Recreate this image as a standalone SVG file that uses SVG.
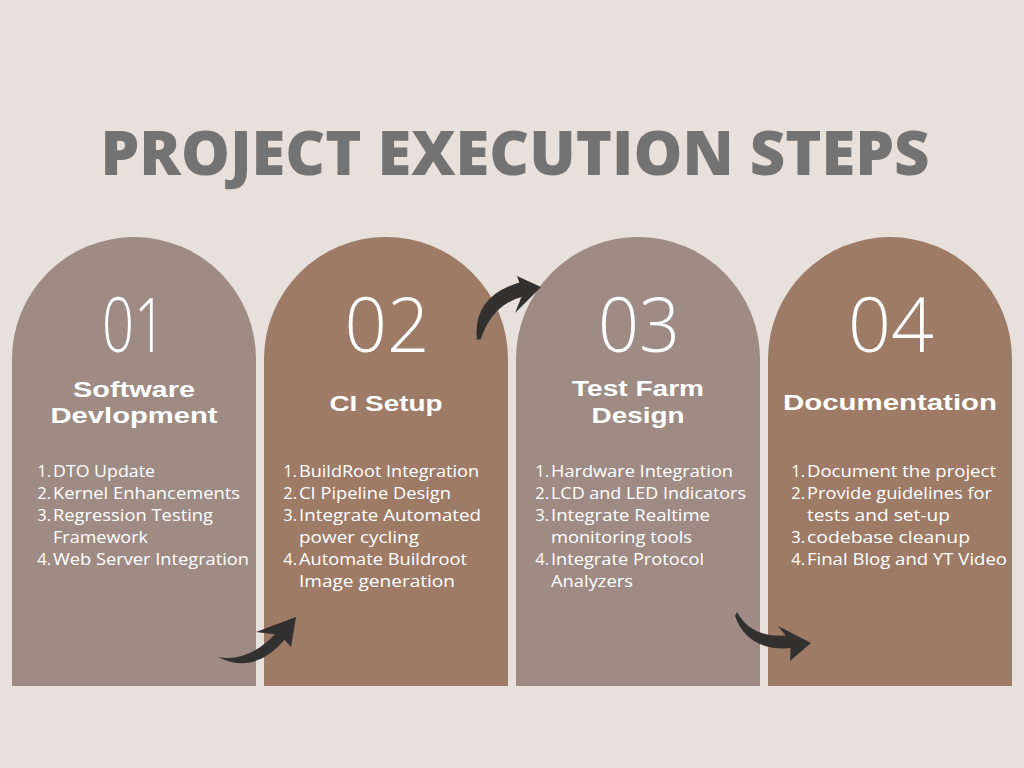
<svg xmlns="http://www.w3.org/2000/svg" width="1024" height="768" viewBox="0 0 1024 768">
<style>
.bg{fill:#E8E0DB}
.c1{fill:#9E8C84}
.c2{fill:#9D7B66}
.title{font-family:"Open Sans","Liberation Sans",sans-serif;font-weight:800;font-size:62px;fill:#737373}
.num{font-family:"Open Sans","Liberation Sans",sans-serif;font-weight:300;font-size:76px;fill:#ffffff;text-anchor:middle}
.head{font-family:"Liberation Sans","Open Sans",sans-serif;font-weight:700;font-size:22px;fill:#ffffff;text-anchor:middle}
.li{font-family:"Open Sans","Liberation Sans",sans-serif;font-weight:400;font-size:16.5px;fill:#ffffff}
.n{text-anchor:end}
.arrow{fill:#333130}
</style>
<rect class="bg" x="0" y="0" width="1024" height="768"/>
<text class="title" x="515" y="175" text-anchor="middle" textLength="829" lengthAdjust="spacingAndGlyphs">PROJECT EXECUTION STEPS</text>

<g id="step1">
<path class="c1" d="M12,686 L12,359 A122,122 0 0 1 256,359 L256,686 Z"/>
<text class="num" x="134" y="352" textLength="64" lengthAdjust="spacingAndGlyphs">01</text>
<text class="head" x="134" y="397" textLength="122" lengthAdjust="spacingAndGlyphs">Software</text>
<text class="head" x="134" y="423" textLength="167" lengthAdjust="spacingAndGlyphs">Devlopment</text>
<text class="li n" x="51" y="477">1.</text><text class="li" x="53" y="477" textLength="102" lengthAdjust="spacingAndGlyphs">DTO Update</text>
<text class="li n" x="51" y="499">2.</text><text class="li" x="53" y="499" textLength="187" lengthAdjust="spacingAndGlyphs">Kernel Enhancements</text>
<text class="li n" x="51" y="521">3.</text><text class="li" x="53" y="521" textLength="160" lengthAdjust="spacingAndGlyphs">Regression Testing</text>
<text class="li" x="53" y="543" textLength="95" lengthAdjust="spacingAndGlyphs">Framework</text>
<text class="li n" x="51" y="565">4.</text><text class="li" x="53" y="565" textLength="196" lengthAdjust="spacingAndGlyphs">Web Server Integration</text>
</g>

<g id="step2">
<path class="c2" d="M264,686 L264,359 A122,122 0 0 1 508,359 L508,686 Z"/>
<text class="num" x="387" y="352" textLength="85" lengthAdjust="spacingAndGlyphs">02</text>
<text class="head" x="386" y="411" textLength="113" lengthAdjust="spacingAndGlyphs">CI Setup</text>
<text class="li n" x="297" y="477">1.</text><text class="li" x="299" y="477" textLength="180" lengthAdjust="spacingAndGlyphs">BuildRoot Integration</text>
<text class="li n" x="297" y="499">2.</text><text class="li" x="299" y="499" textLength="152" lengthAdjust="spacingAndGlyphs">CI Pipeline Design</text>
<text class="li n" x="297" y="521">3.</text><text class="li" x="299" y="521" textLength="182" lengthAdjust="spacingAndGlyphs">Integrate Automated</text>
<text class="li" x="299" y="543" textLength="120" lengthAdjust="spacingAndGlyphs">power cycling</text>
<text class="li n" x="297" y="565">4.</text><text class="li" x="299" y="565" textLength="168" lengthAdjust="spacingAndGlyphs">Automate Buildroot</text>
<text class="li" x="299" y="587" textLength="156" lengthAdjust="spacingAndGlyphs">Image generation</text>
</g>

<g id="step3">
<path class="c1" d="M516,686 L516,359 A122,122 0 0 1 760,359 L760,686 Z"/>
<text class="num" x="639" y="352" textLength="82" lengthAdjust="spacingAndGlyphs">03</text>
<text class="head" x="638" y="396" textLength="132" lengthAdjust="spacingAndGlyphs">Test Farm</text>
<text class="head" x="638" y="423" textLength="93" lengthAdjust="spacingAndGlyphs">Design</text>
<text class="li n" x="549" y="477">1.</text><text class="li" x="551" y="477" textLength="182" lengthAdjust="spacingAndGlyphs">Hardware Integration</text>
<text class="li n" x="549" y="499">2.</text><text class="li" x="551" y="499" textLength="195" lengthAdjust="spacingAndGlyphs">LCD and LED Indicators</text>
<text class="li n" x="549" y="521">3.</text><text class="li" x="551" y="521" textLength="159" lengthAdjust="spacingAndGlyphs">Integrate Realtime</text>
<text class="li" x="551" y="543" textLength="141" lengthAdjust="spacingAndGlyphs">monitoring tools</text>
<text class="li n" x="549" y="565">4.</text><text class="li" x="551" y="565" textLength="153" lengthAdjust="spacingAndGlyphs">Integrate Protocol</text>
<text class="li" x="551" y="587" textLength="82" lengthAdjust="spacingAndGlyphs">Analyzers</text>
</g>

<g id="step4">
<path class="c2" d="M768,686 L768,359 A122,122 0 0 1 1012,359 L1012,686 Z"/>
<text class="num" x="891" y="352" textLength="86" lengthAdjust="spacingAndGlyphs">04</text>
<text class="head" x="890" y="410" textLength="214" lengthAdjust="spacingAndGlyphs">Documentation</text>
<text class="li n" x="805" y="477">1.</text><text class="li" x="807" y="477" textLength="189" lengthAdjust="spacingAndGlyphs">Document the project</text>
<text class="li n" x="805" y="499">2.</text><text class="li" x="807" y="499" textLength="185" lengthAdjust="spacingAndGlyphs">Provide guidelines for</text>
<text class="li" x="807" y="521" textLength="143" lengthAdjust="spacingAndGlyphs">tests and set-up</text>
<text class="li n" x="805" y="543">3.</text><text class="li" x="807" y="543" textLength="163" lengthAdjust="spacingAndGlyphs">codebase cleanup</text>
<text class="li n" x="805" y="565">4.</text><text class="li" x="807" y="565" textLength="200" lengthAdjust="spacingAndGlyphs">Final Blog and YT Video</text>
</g>

<g id="connectors">
<path class="arrow" d="M218,657 Q255,676 286,638 L279,630 Q250,663 218,657 Z"/>
<polygon class="arrow" points="296,617 256,632 280,635 291,647"/>
<path class="arrow" d="M477,340 Q472,296 521,282 L525,296 Q492,304 481,339 Z"/>
<polygon class="arrow" points="541,287 517,276 523,293 515,313"/>
<path class="arrow" d="M737,612 Q752,640 792,635 L792,648 Q748,652 735,616 Z"/>
<polygon class="arrow" points="811,643 778,626 791,642 790,661"/>
</g>
</svg>
